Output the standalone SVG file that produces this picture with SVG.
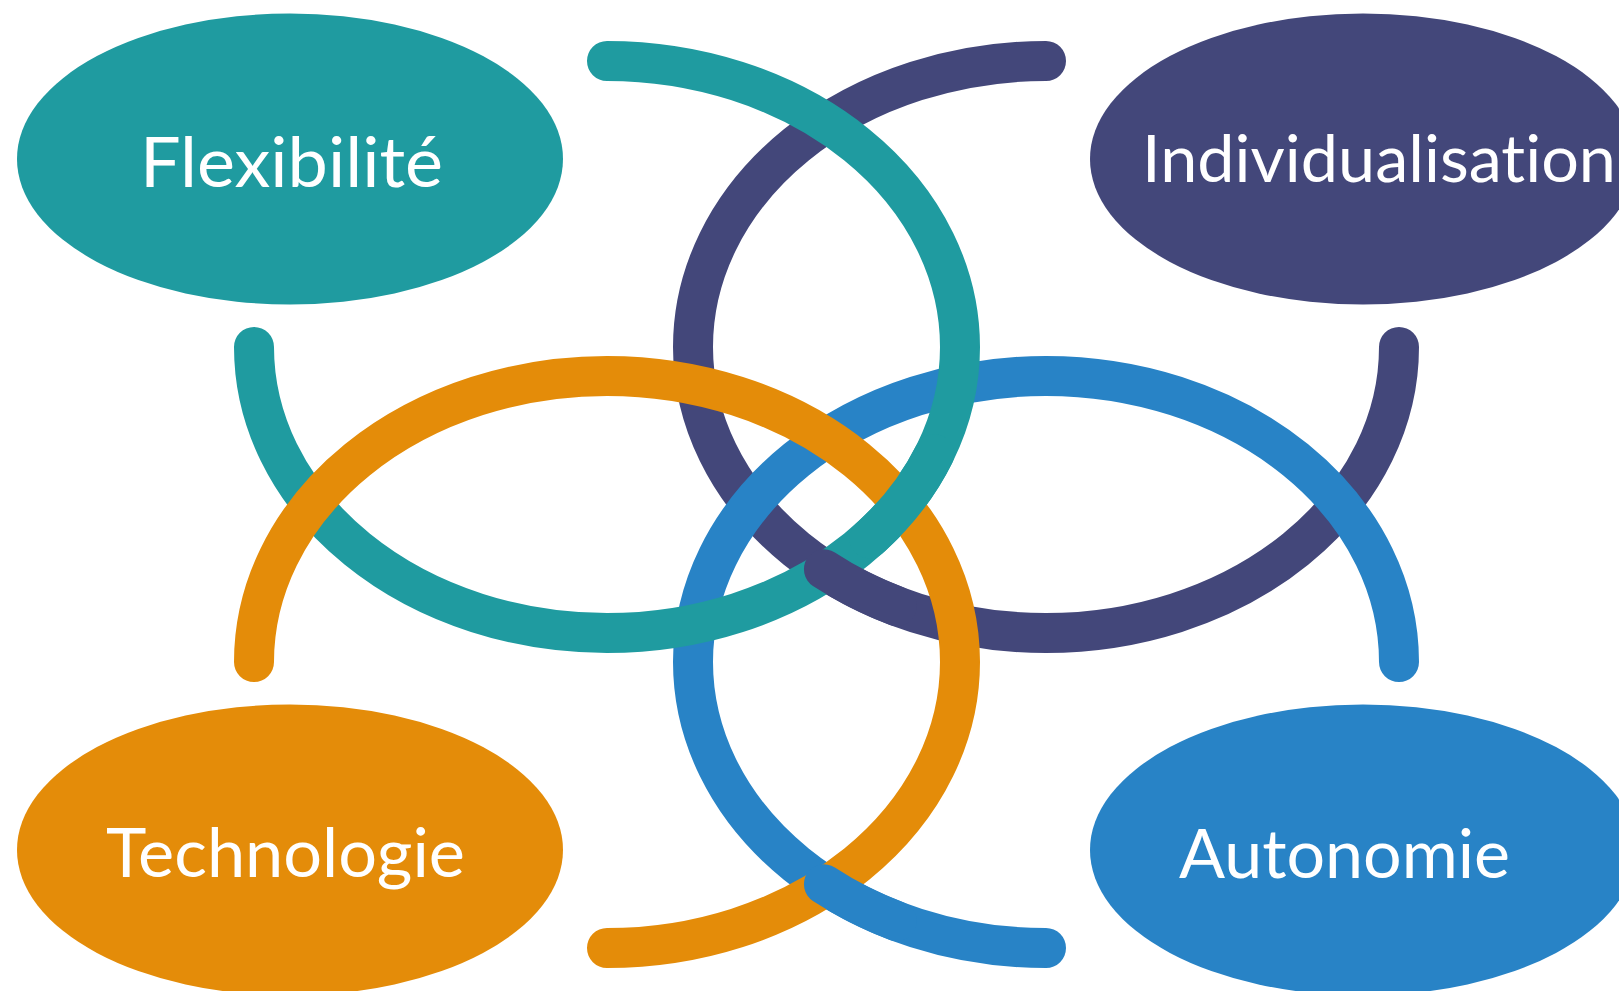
<svg xmlns="http://www.w3.org/2000/svg" width="1619" height="991" viewBox="0 0 1619 991">
  <style>
    .ring { fill: none; stroke-width: 40; stroke-linecap: round; }
    .teal { stroke: #1F9BA0; }
    .purple { stroke: #43477A; }
    .orange { stroke: #E48C09; }
    .blue { stroke: #2883C6; }
    .label { fill: #FFFFFF; font-family: "Lato", "Noto Sans", "Liberation Sans", sans-serif; font-weight: 400; font-variant-ligatures: none; font-feature-settings: "liga" 0, "clig" 0; }
  </style>
  <rect width="1619" height="991" fill="#FFFFFF"/>
  <g id="node-flexibilite">
    <ellipse cx="290" cy="159" rx="273" ry="145.5" fill="#1F9BA0"/>
    <text class="label" x="140" y="187" font-size="69" textLength="303" lengthAdjust="spacingAndGlyphs">Flexibilité</text>
  </g>
  <g id="node-individualisation">
    <ellipse cx="1363" cy="159" rx="273" ry="145.5" fill="#43477A"/>
    <text class="label" x="1142" y="182" font-size="65" textLength="474" lengthAdjust="spacingAndGlyphs">Individualisation</text>
  </g>
  <g id="node-technologie">
    <ellipse cx="290" cy="850" rx="273" ry="145.5" fill="#E48C09"/>
    <text class="label" x="106" y="877" font-size="68" textLength="359" lengthAdjust="spacingAndGlyphs">Technologie</text>
  </g>
  <g id="node-autonomie">
    <ellipse cx="1363" cy="850" rx="273" ry="145.5" fill="#2883C6"/>
    <text class="label" x="1179" y="878" font-size="68" textLength="331" lengthAdjust="spacingAndGlyphs">Autonomie</text>
  </g>
  <g id="connectors">
    <path class="ring purple" d="M 1046 61 A 353 286 0 1 0 1399 347"/>
    <path class="ring blue" d="M 1399 662 A 353 286 0 1 0 1046 948"/>
    <path class="ring teal" d="M 607 61 A 353 286 0 1 1 254 347"/>
    <path class="ring orange" d="M 254 662 A 353 286 0 1 1 607 948"/>
    <path class="ring teal" d="M 934.3 454.1 A 353 286 0 0 1 869.3 538.4"/>
    <path class="ring purple" d="M 823.9 569.3 A 353 286 0 0 0 896.8 606.2"/>
    <path class="ring blue" d="M 823.9 884.3 A 353 286 0 0 0 896.8 921.2"/>
  </g>
</svg>
